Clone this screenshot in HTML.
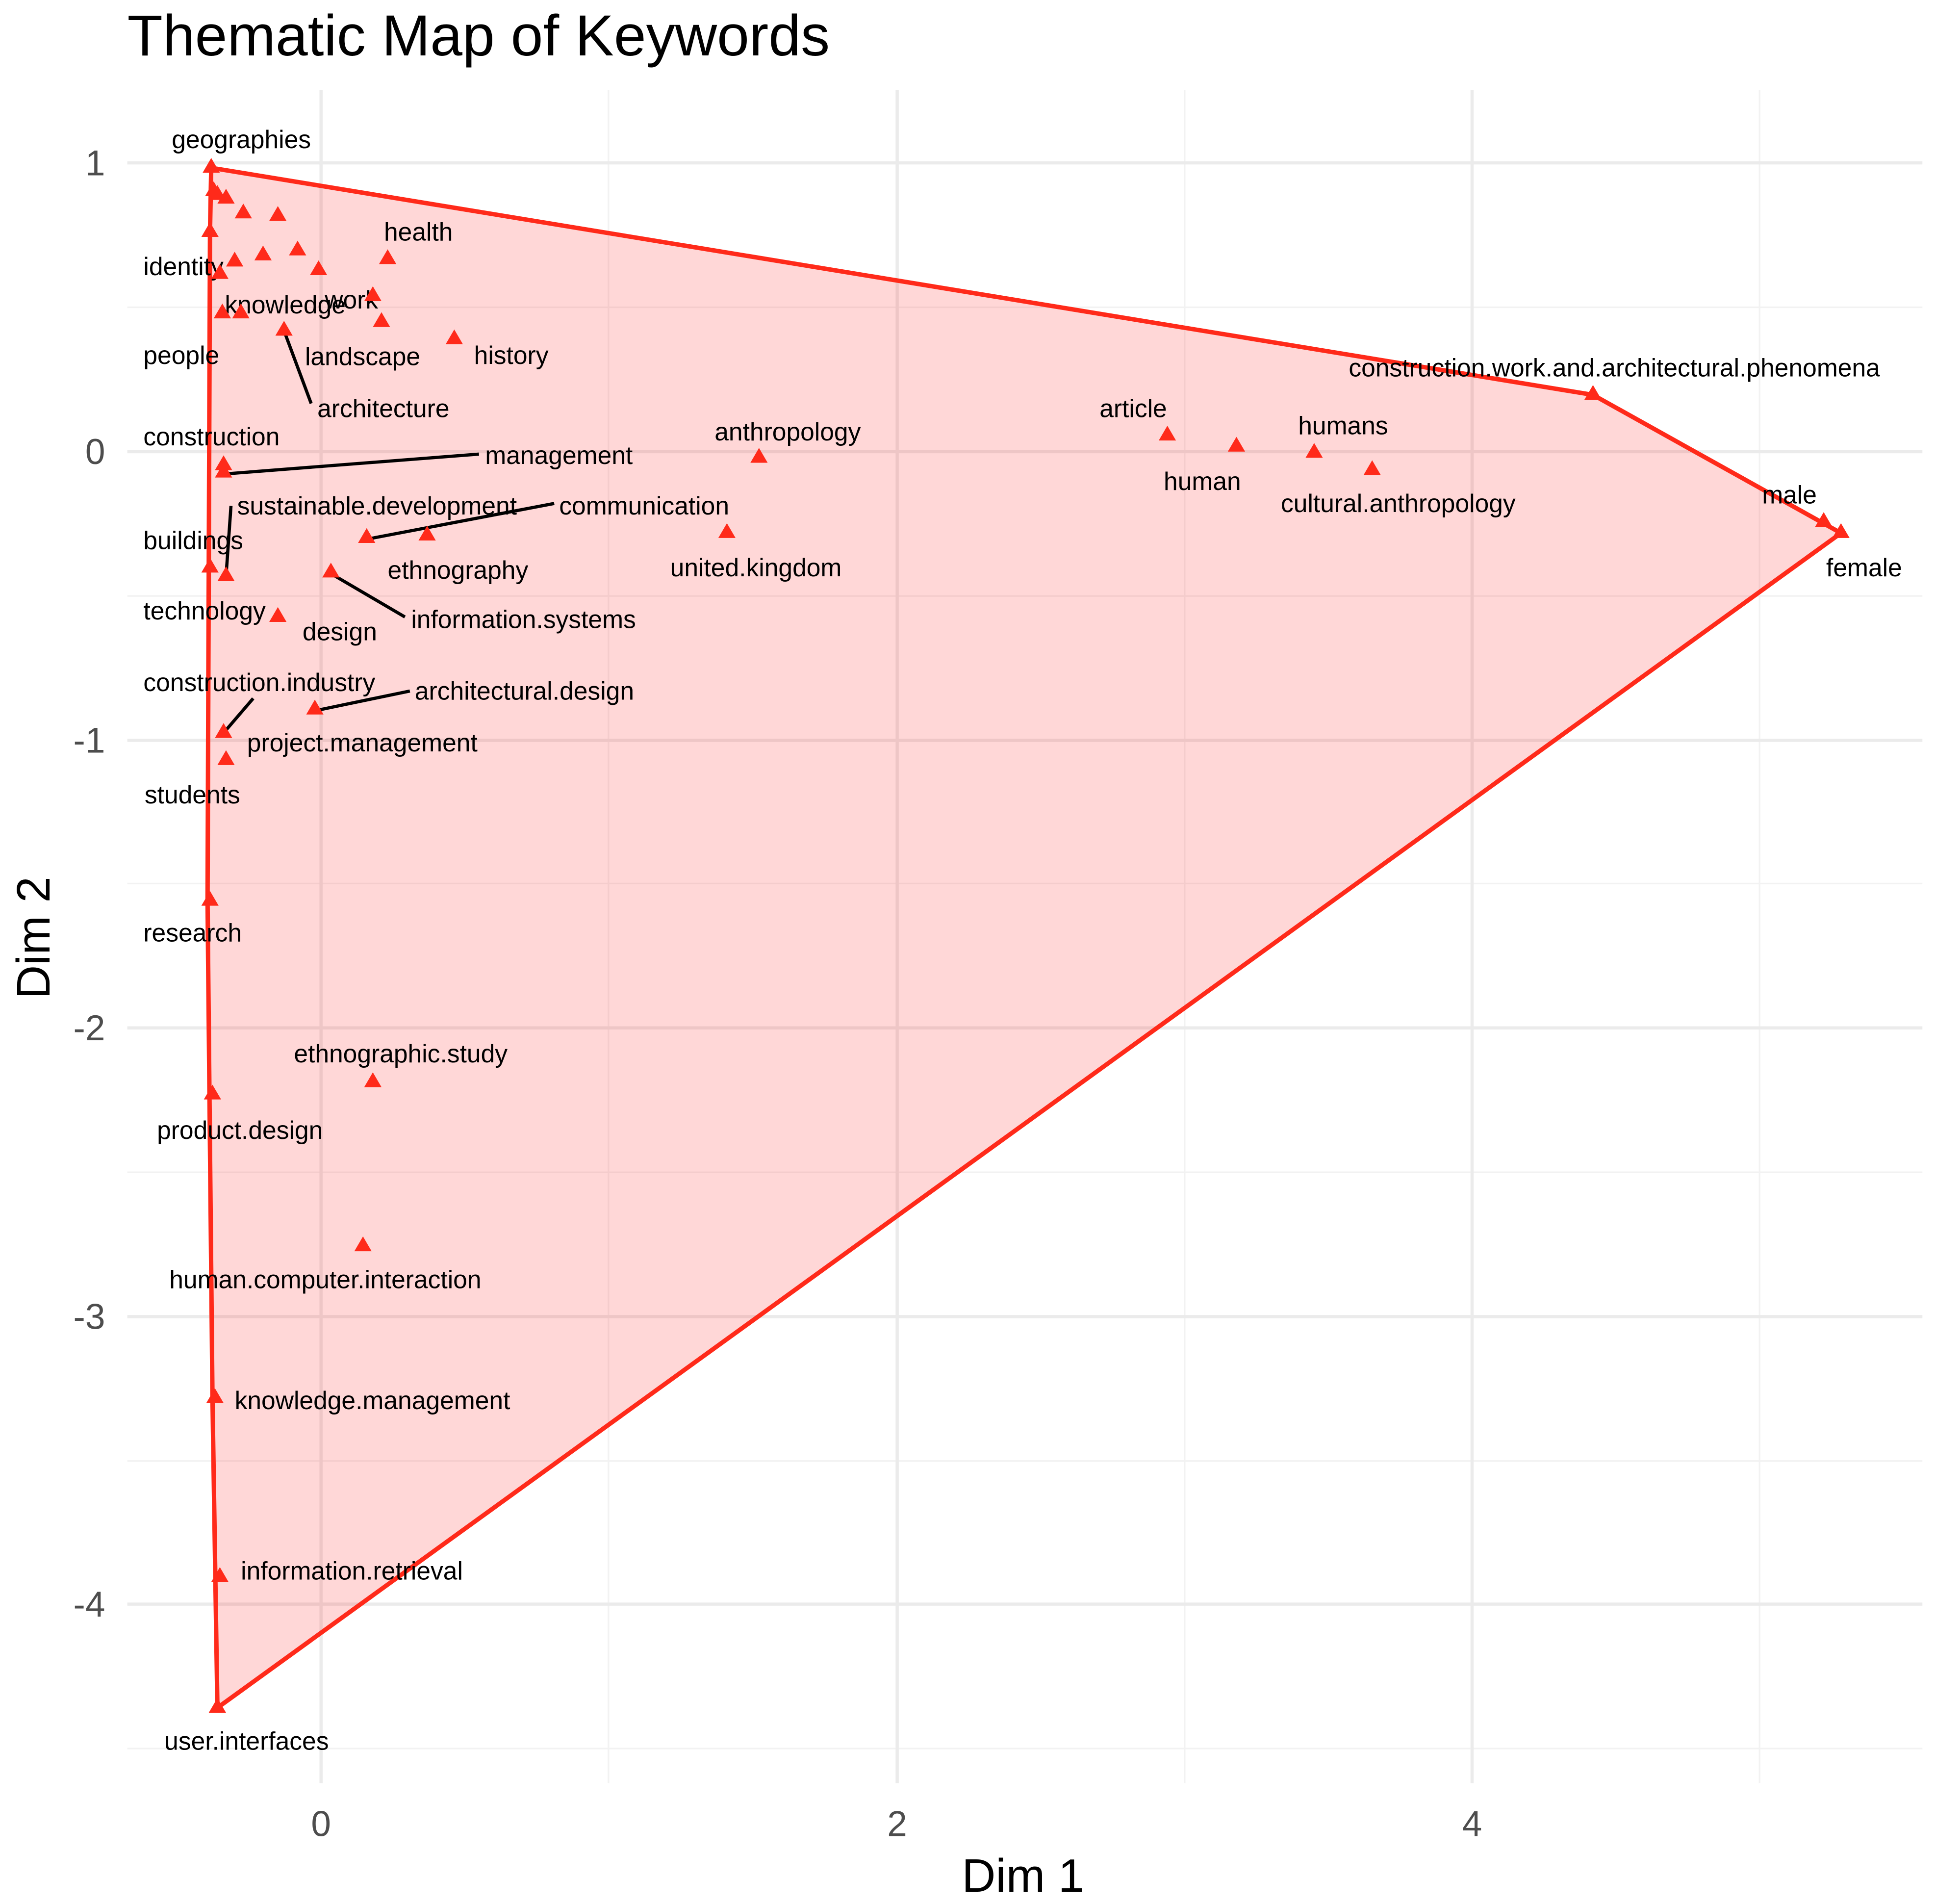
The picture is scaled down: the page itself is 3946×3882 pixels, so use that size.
<!DOCTYPE html>
<html><head><meta charset="utf-8"><style>
html,body{margin:0;padding:0;background:#fff;}
svg{display:block;}
text{font-family:"Liberation Sans",Arial,sans-serif;}
.l{font-size:20.5px;fill:#000;}
.t{font-size:29px;fill:#4d4d4d;}
</style></head><body>
<svg width="3946" height="3882" viewBox="0 0 1568 1543" xmlns="http://www.w3.org/2000/svg">
<rect width="1568" height="1543" fill="#fff"/>
<g stroke="#f2f2f2" stroke-width="1.3">
<line x1="493" y1="73" x2="493" y2="1445"/><line x1="960" y1="73" x2="960" y2="1445"/><line x1="1426" y1="73" x2="1426" y2="1445"/>
<line x1="103" y1="249" x2="1558" y2="249"/><line x1="103" y1="483" x2="1558" y2="483"/><line x1="103" y1="716" x2="1558" y2="716"/>
<line x1="103" y1="950" x2="1558" y2="950"/><line x1="103" y1="1184" x2="1558" y2="1184"/><line x1="103" y1="1417" x2="1558" y2="1417"/>
</g>
<g stroke="#ebebeb" stroke-width="2.6">
<line x1="260" y1="73" x2="260" y2="1445"/><line x1="727" y1="73" x2="727" y2="1445"/><line x1="1193" y1="73" x2="1193" y2="1445"/>
<line x1="103" y1="132" x2="1558" y2="132"/><line x1="103" y1="366" x2="1558" y2="366"/><line x1="103" y1="600" x2="1558" y2="600"/>
<line x1="103" y1="833" x2="1558" y2="833"/><line x1="103" y1="1067" x2="1558" y2="1067"/><line x1="103" y1="1300" x2="1558" y2="1300"/>
</g>
<polygon points="171,136 1291,320 1492,432 176,1384 172,1133 168,730 170,188" fill="rgba(255,40,40,0.19)" stroke="#ff2a1a" stroke-width="3.6" stroke-linejoin="round"/>
<g stroke="#000" stroke-width="2.6">
<line x1="230" y1="268" x2="252" y2="327"/>
<line x1="183" y1="384" x2="388" y2="368"/>
<line x1="187" y1="410" x2="183" y2="467"/>
<line x1="297" y1="437" x2="449" y2="408"/>
<line x1="270" y1="466" x2="328" y2="500"/>
<line x1="205" y1="566" x2="181" y2="594"/>
<line x1="255" y1="576" x2="332" y2="560"/>
</g>
<g class="l">
<text x="139" y="120">geographies</text>
<text x="311" y="195">health</text>
<text x="116" y="223">identity</text>
<text x="182" y="254">knowledge</text>
<text x="263" y="250">work</text>
<text x="116" y="295">people</text>
<text x="247" y="296">landscape</text>
<text x="384" y="295">history</text>
<text x="257" y="338">architecture</text>
<text x="116" y="361">construction</text>
<text x="393" y="376">management</text>
<text x="192" y="417">sustainable.development</text>
<text x="453" y="417">communication</text>
<text x="116" y="445">buildings</text>
<text x="314" y="469">ethnography</text>
<text x="116" y="502">technology</text>
<text x="245" y="519">design</text>
<text x="333" y="509">information.systems</text>
<text x="116" y="560">construction.industry</text>
<text x="336" y="567">architectural.design</text>
<text x="200" y="609">project.management</text>
<text x="117" y="651">students</text>
<text x="116" y="763">research</text>
<text x="238" y="861">ethnographic.study</text>
<text x="127" y="923">product.design</text>
<text x="137" y="1044">human.computer.interaction</text>
<text x="190" y="1142">knowledge.management</text>
<text x="195" y="1280">information.retrieval</text>
<text x="133" y="1418">user.interfaces</text>
<text x="579" y="357">anthropology</text>
<text x="543" y="467">united.kingdom</text>
<text x="891" y="338">article</text>
<text x="943" y="397">human</text>
<text x="1052" y="352">humans</text>
<text x="1038" y="415">cultural.anthropology</text>
<text x="1093" y="305">construction.work.and.architectural.phenomena</text>
<text x="1428" y="408">male</text>
<text x="1480" y="467">female</text>
</g>
<g class="t">
<text x="85" y="142" text-anchor="end">1</text>
<text x="85" y="376" text-anchor="end">0</text>
<text x="85" y="610" text-anchor="end">-1</text>
<text x="85" y="843" text-anchor="end">-2</text>
<text x="85" y="1077" text-anchor="end">-3</text>
<text x="85" y="1310" text-anchor="end">-4</text>
<text x="260" y="1488" text-anchor="middle">0</text>
<text x="727" y="1488" text-anchor="middle">2</text>
<text x="1193" y="1488" text-anchor="middle">4</text>
</g>
<text x="829" y="1533" text-anchor="middle" font-size="38">Dim 1</text>
<text transform="translate(40,760) rotate(-90)" text-anchor="middle" font-size="38">Dim 2</text>
<text x="103" y="45" font-size="47">Thematic Map of Keywords</text>
<g fill="#ff2a1a">
<path d="M171,128l7,12h-14z"/><path d="M173,147l7,12h-14z"/><path d="M176,150l7,12h-14z"/><path d="M183,153l7,12h-14z"/>
<path d="M197,165l7,12h-14z"/><path d="M225,167l7,12h-14z"/><path d="M170,180l7,12h-14z"/><path d="M190,204l7,12h-14z"/>
<path d="M213,199l7,12h-14z"/><path d="M241,195l7,12h-14z"/><path d="M258,211l7,12h-14z"/><path d="M314,202l7,12h-14z"/>
<path d="M178,214l7,12h-14z"/><path d="M302,232l7,12h-14z"/><path d="M309,253l7,12h-14z"/><path d="M368,267l7,12h-14z"/>
<path d="M180,246l7,12h-14z"/><path d="M195,246l7,12h-14z"/><path d="M230,260l7,12h-14z"/><path d="M181,369l7,12h-14z"/>
<path d="M181,375l7,12h-14z"/><path d="M297,428l7,12h-14z"/><path d="M346,426l7,12h-14z"/><path d="M170,452l7,12h-14z"/>
<path d="M183,459l7,12h-14z"/><path d="M268,456l7,12h-14z"/><path d="M225,492l7,12h-14z"/><path d="M255,567l7,12h-14z"/>
<path d="M181,586l7,12h-14z"/><path d="M183,608l7,12h-14z"/><path d="M170,722l7,12h-14z"/><path d="M172,879l7,12h-14z"/>
<path d="M302,869l7,12h-14z"/><path d="M294,1002l7,12h-14z"/><path d="M174,1125l7,12h-14z"/><path d="M178,1270l7,12h-14z"/>
<path d="M176,1376l7,12h-14z"/><path d="M615,363l7,12h-14z"/><path d="M589,424l7,12h-14z"/><path d="M946,345l7,12h-14z"/>
<path d="M1002,354l7,12h-14z"/><path d="M1065,359l7,12h-14z"/><path d="M1112,373l7,12h-14z"/><path d="M1291,312l7,12h-14z"/>
<path d="M1478,415l7,12h-14z"/><path d="M1492,424l7,12h-14z"/>
</g>
</svg>
</body></html>
